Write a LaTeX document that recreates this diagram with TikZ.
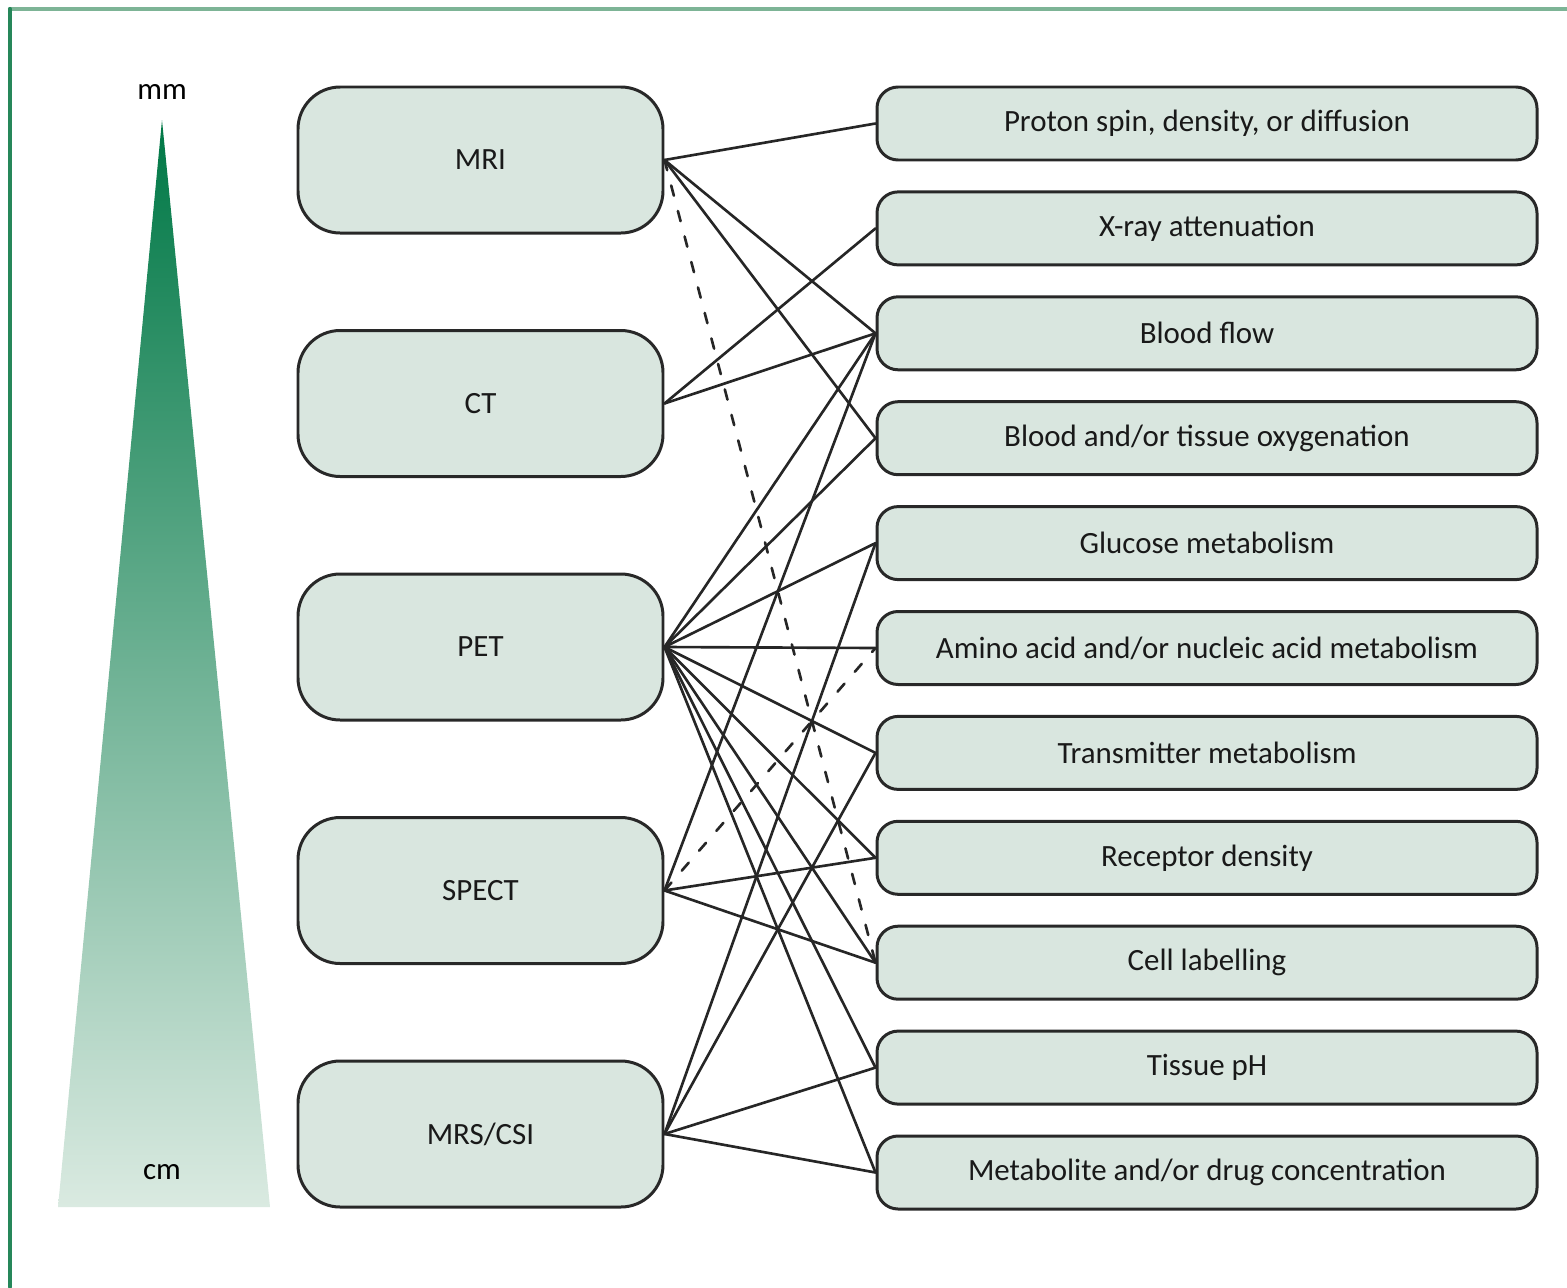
\documentclass[tikz,border=0pt]{standalone}
\usepackage{fontspec}
\setmainfont{Carlito}
\definecolor{boxfill}{RGB}{217,230,223}
\definecolor{boxline}{RGB}{40,40,40}
\definecolor{framedark}{RGB}{38,135,90}
\definecolor{framelight}{RGB}{125,180,150}
\definecolor{wedgetop}{RGB}{0,120,70}
\definecolor{wedgebot}{RGB}{218,234,225}
\tikzset{
	modality/.style={draw=boxline, fill=boxfill, line width=0.85pt, rounded corners=12pt,
		minimum width=3.65cm, minimum height=1.46cm, text=black!90},
	measure/.style={draw=boxline, fill=boxfill, line width=0.85pt, rounded corners=6pt,
		minimum width=6.6cm, minimum height=0.73cm, text=black!90},
	link/.style={line width=0.75pt, black!85},
	maybe/.style={link, dash pattern=on 3pt off 4.5pt},
}
\begin{document}
\begin{tikzpicture}[font=\fontsize{8.8}{10}\selectfont, line join=round, line cap=round]
			\useasboundingbox (0,0) rectangle (15.67,-12.87);
			% frame
			\draw[framelight, line width=1.2pt] (0.10,-0.09) -- (15.67,-0.09);
			\draw[framedark, line width=1.2pt] (0.10,-0.09) -- (0.10,-12.87);
			% resolution wedge
			\shade[top color=wedgetop, bottom color=wedgebot]
			(1.62,-1.20)coordinate(tip) -- (2.70,-12.07) -- (0.58,-12.07)coordinate(base) -- cycle;
			\node (mm) at (1.62,-0.92) {mm};
			\node (cm) at (1.62,-11.72) {cm};
			% modalities
			\foreach \n/\t [count=\i from 0] in {mri/MRI, ct/CT, pet/PET, spect/SPECT, mrs/{MRS/CSI}}
				\node[modality] (\n) at (4.805,{-1.60-2.435*\i}) {\t};
			% what they measure
			\foreach \n/\t [count=\i from 0] in {
				pd/{Proton spin, density, or diffusion},
				xr/X-ray attenuation,
				bf/Blood flow,
				oxy/{Blood and/or tissue oxygenation},
				glu/Glucose metabolism,
				amino/{Amino acid and/or nucleic acid metabolism},
				trans/Transmitter metabolism,
				rec/Receptor density,
				cell/Cell labelling,
				ph/Tissue pH,
				drug/{Metabolite and/or drug concentration}}
				\node[measure] (\n) at (12.07,{-1.235-1.049*\i}) {\t};
			% links
			\foreach \a/\b in {
				mri/pd, mri/bf, mri/oxy,
				ct/xr, ct/bf,
				pet/bf, pet/oxy, pet/glu, pet/amino, pet/trans,
				pet/rec, pet/cell, pet/ph, pet/drug,
				spect/bf, spect/rec, spect/cell,
				mrs/glu, mrs/trans, mrs/ph, mrs/drug}
				\draw[link] (\a.east) -- (\b.west);
			\draw[maybe] (mri.east) -- (cell.west);
			\draw[maybe] (spect.east) -- (amino.west);
\end{tikzpicture}
\end{document}
